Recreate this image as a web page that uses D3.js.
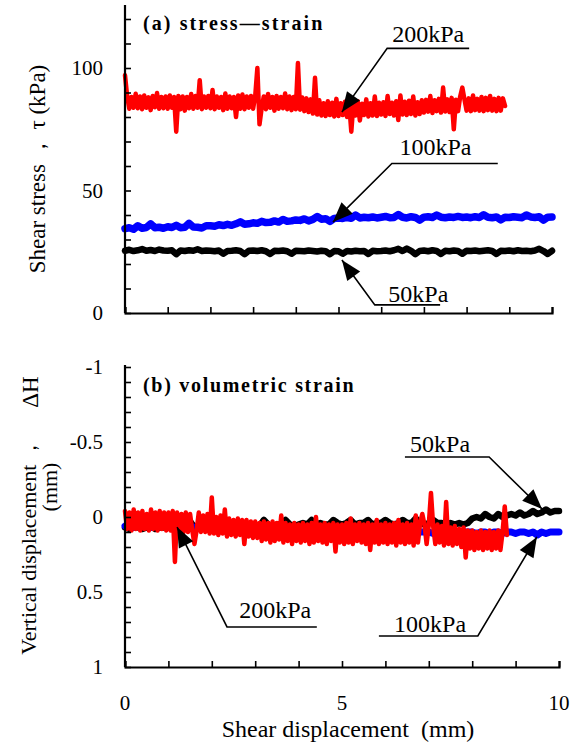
<!DOCTYPE html>
<html>
<head>
<meta charset="utf-8">
<script src="https://cdn.jsdelivr.net/npm/d3@7"></script>
<style>
  body { margin: 0; background: #fff; }
  svg { display: block; }
</style>
</head>
<body>
<svg id="chart" width="573" height="745"></svg>
<script>
// red records are sampled every 0.05 mm, the others every 0.1 mm
var stepFine = 0.05;
var stepCoarse = 0.1;

// (a) shear stress, kPa
var stress200 = [
  97, 88.6, 83.4, 88.2, 83.8, 89.5, 83.6, 88.4, 83.2, 88.8, 83.8, 88, 82.8, 88.6, 84, 89.8, 83.4, 88.2, 83.6, 88.4,
  83.4, 88.8, 83.8, 88.2, 74, 88.6, 83.2, 88.4, 82.6, 88.2, 83.6, 89.4, 83.4, 88.6, 83.8, 95, 83.2, 88.4, 83.8, 88.6,
  83.6, 91, 83.2, 88.4, 83.8, 88.2, 82.8, 89.6, 83.4, 88.4, 83.6, 88.2, 80, 88.8, 83.4, 89.2, 83.2, 88.4, 83.8, 88.6,
  83.4, 88.6, 100, 77, 83.6, 88.4, 83.2, 89.4, 83.8, 88.2, 82.6, 88.6, 83.4, 88.2, 83.6, 89.6, 83.2, 88.4, 82.8, 88.2,
  83.2, 102, 83, 88, 82.4, 87.6, 82, 87.2, 81.4, 96, 81, 86.8, 80.6, 85.6, 80.4, 86.4, 80.8, 85.8, 80.2, 87.4,
  80.4, 85.6, 80.8, 86.2, 80, 85.4, 74, 85.8, 80.6, 86.4, 78.6, 85.4, 80.8, 87.2, 80.2, 85.6, 80.6, 88.4, 80.4, 85.8,
  81, 86, 80.4, 88.6, 81.2, 85.8, 80.6, 86.4, 78.8, 88.8, 81, 86.2, 80.8, 86.6, 81.2, 88.4, 80.6, 86, 81.2, 86.8,
  81.8, 87, 82.2, 88.6, 81.6, 86.8, 82.4, 87.4, 81.8, 92, 82.2, 87.2, 82, 87.8, 75, 87, 82.4, 88.4, 92, 87.2,
  82.6, 87.6, 82.4, 88.8, 82.8, 87.4, 82.6, 88.2, 82.4, 87.8, 82.8, 88.6, 82.6, 87.4, 82.4, 87.8, 82.6, 87.6, 84.5
];
var stress100 = [
  34.4, 34.8, 34.2, 35.6, 34.6, 34.9, 36.4, 34.8, 35.0, 34.6,
  35.2, 34.9, 35.8, 34.8, 35.0, 36.6, 35.1, 35.0, 34.7, 35.6,
  35.6, 35.4, 36.0, 35.7, 36.2, 35.8, 36.4, 37.2, 36.2, 36.4,
  36.8, 36.6, 37.4, 36.9, 37.0, 37.6, 37.1, 38.2, 37.4, 37.6,
  38.0, 37.8, 38.4, 37.6, 38.2, 39.4, 38.3, 38.5, 37.4, 38.6,
  38.8, 38.6, 39.0, 38.7, 40.0, 38.8, 39.1, 38.9, 39.2, 38.8,
  39.1, 39.4, 38.9, 39.0, 40.2, 39.1, 38.8, 39.3, 39.0, 37.9,
  39.1, 39.3, 39.0, 40.0, 39.1, 38.9, 39.2, 39.0, 39.4, 39.0,
  39.2, 38.9, 39.3, 39.0, 40.1, 39.1, 38.9, 39.2, 38.0, 39.1,
  39.0, 39.3, 39.1, 38.9, 40.0, 39.2, 39.0, 39.3, 37.9, 39.1,
  39.2
];
var stress50 = [
  25.4, 25.8, 25.3, 25.6, 26.1, 25.4, 25.7, 25.3, 25.9, 25.5,
  25.4, 25.6, 24.0, 25.5, 25.3, 25.6, 25.4, 26.0, 25.3, 25.5,
  25.4, 25.2, 25.5, 24.2, 25.3, 25.4, 25.6, 25.3, 24.0, 25.4,
  25.5, 25.3, 25.6, 25.2, 24.1, 25.4, 25.3, 25.5, 25.2, 24.2,
  25.4, 25.3, 25.2, 25.5, 25.3, 25.1, 25.4, 25.2, 24.0, 25.3,
  25.2, 24.2, 25.3, 25.1, 25.4, 25.2, 25.3, 24.1, 25.4, 25.2,
  25.3, 25.5, 25.2, 25.6, 26.2, 25.3, 26.3, 25.4, 24.0, 25.3,
  25.5, 25.2, 25.6, 25.3, 24.1, 25.4, 25.2, 25.5, 25.3, 24.2,
  25.4, 25.3, 25.5, 25.2, 25.4, 25.6, 25.3, 24.1, 25.4, 25.3,
  25.5, 25.2, 25.6, 25.3, 25.4, 25.2, 25.5, 26.2, 25.3, 24.1,
  25.4
];

// (b) vertical displacement, mm (negative = dilation, drawn upward)
var disp50 = [
  0.07, 0.08, 0.06, 0.07, 0.08, 0.07, 0.06, 0.08, 0.07, 0.07,
  0.06, 0.07, 0.08, 0.06, 0.07, 0.03, 0.07, 0.06, 0.07, 0.06,
  0.06, 0.05, 0.06, 0.06, 0.03, 0.06, 0.05, 0.06, 0.05, 0.06,
  0.05, 0.06, 0.02, 0.05, 0.06, 0.05, 0.05, 0.02, 0.05, 0.06,
  0.05, 0.04, 0.05, 0.02, 0.05, 0.04, 0.05, 0.05, 0.02, 0.04,
  0.05, 0.04, 0.02, 0.05, 0.04, 0.04, 0.02, 0.05, 0.04, 0.04,
  0.02, 0.04, 0.05, 0.04, 0.02, 0.04, 0.04, 0.01, 0.04, 0.05,
  0.04, 0.02, 0.04, 0.04, 0.05, 0.04, 0.05, 0.04, 0.05, 0.04,
  0.01, 0.00, 0.01, -0.02, 0.00, 0.01, -0.02, 0.00, -0.01, -0.02,
  -0.01, -0.03, -0.01, -0.02, -0.04, -0.02, -0.03, -0.05, -0.03, -0.04,
  -0.04
];
var disp100 = [
  0.06, 0.05, 0.07, 0.06, 0.05, 0.06, 0.07, 0.06, 0.05, 0.06,
  0.06, 0.07, 0.06, 0.05, 0.07, 0.06, 0.07, 0.06, 0.07, 0.06,
  0.07, 0.07, 0.08, 0.07, 0.07, 0.08, 0.07, 0.08, 0.08, 0.07,
  0.08, 0.08, 0.09, 0.08, 0.08, 0.09, 0.08, 0.09, 0.09, 0.08,
  0.09, 0.09, 0.10, 0.09, 0.09, 0.10, 0.09, 0.10, 0.09, 0.10,
  0.10, 0.09, 0.10, 0.10, 0.09, 0.10, 0.10, 0.11, 0.10, 0.10,
  0.10, 0.11, 0.10, 0.10, 0.11, 0.10, 0.10, 0.11, 0.10, 0.10,
  0.10, 0.11, 0.10, 0.10, 0.11, 0.10, 0.10, 0.11, 0.10, 0.10,
  0.10, 0.11, 0.10, 0.10, 0.11, 0.10, 0.10, 0.11, 0.10, 0.10,
  0.11, 0.10, 0.10, 0.11, 0.10, 0.12, 0.10, 0.11, 0.10, 0.10,
  0.10
];
var disp200 = [
  -0.04, 0.08, -0.03, 0.09, -0.05, 0.08, -0.03, 0.09, -0.04, 0.08, -0.02, 0.09, -0.05, 0.08, -0.03, 0.09, -0.04, 0.08, -0.03, 0.09,
  -0.03, 0.09, -0.04, 0.30, -0.03, 0.09, -0.02, 0.10, -0.03, 0.10, -0.02, 0.09, 0.18, 0.09, -0.03, 0.10, -0.01, 0.10, -0.02, 0.11,
  -0.13, 0.11, 0.00, 0.12, -0.01, 0.11, -0.05, 0.13, 0.01, 0.12, 0.02, 0.13, 0.01, 0.12, 0.02, 0.18, 0.02, 0.13, 0.03, 0.14,
  0.03, 0.14, 0.04, 0.16, 0.03, 0.15, 0.04, 0.17, 0.03, 0.16, 0.04, 0.15, -0.01, 0.17, 0.04, 0.16, 0.05, 0.18, 0.04, 0.16,
  0.05, 0.17, 0.04, 0.16, 0.05, 0.18, 0.04, 0.17, 0.00, 0.16, 0.05, 0.17, 0.04, 0.18, 0.05, 0.16, 0.04, 0.23, 0.05, 0.17,
  0.05, 0.18, 0.04, 0.17, 0.01, 0.18, 0.05, 0.16, 0.04, 0.17, 0.05, 0.18, 0.04, 0.22, 0.05, 0.17, 0.02, 0.18, 0.05, 0.17,
  0.04, 0.18, 0.05, 0.17, 0.04, 0.19, 0.02, 0.17, 0.05, 0.18, 0.04, 0.17, 0.05, 0.19, -0.01, 0.17, 0.04, -0.02, 0.05, 0.18,
  0.05, -0.16, 0.06, 0.18, 0.05, 0.17, 0.06, 0.19, -0.10, 0.18, 0.07, 0.19, 0.06, 0.18, 0.08, 0.20, 0.07, 0.27, 0.09, 0.21,
  0.09, 0.22, 0.10, 0.21, 0.09, 0.22, 0.10, 0.21, 0.09, 0.22, 0.10, 0.21, 0.09, 0.22, 0.10, -0.07, 0.12
];

var stressTicks = [0, 50, 100];
var dispTicks = [-1, -0.5, 0, 0.5, 1];
var dispTickLabels = ["-1", "-0.5", "0", "0.5", "1"];
var shearTicks = [0, 5, 10];

var serif = "'Liberation Serif', 'Times New Roman', Times, serif";
var svg = d3.select("#chart").attr("font-family", serif);

var xTop = d3.scaleLinear().domain([0, 10]).range([125, 552]);
var yTop = d3.scaleLinear().domain([0, 125]).range([313, 6.75]);
var xBot = d3.scaleLinear().domain([0, 10]).range([125, 559]);
var yBot = d3.scaleLinear().domain([-1, 1]).range([367, 667]);

function drawSeries(vals, step, x, y, color, width) {
  var line = d3.line()
    .x(function(d, i){ return x(i * step); })
    .y(function(d){ return y(d); });
  svg.append("path")
    .attr("d", line(vals))
    .attr("fill", "none")
    .attr("stroke", color)
    .attr("stroke-width", width)
    .attr("stroke-linejoin", "round")
    .attr("stroke-linecap", "round");
}

// top panel
drawSeries(stress50, stepCoarse, xTop, yTop, "#000000", 6.5);
drawSeries(stress100, stepCoarse, xTop, yTop, "#0000ff", 7.5);
drawSeries(stress200, stepFine, xTop, yTop, "#ff0000", 4.5);

// bottom panel
drawSeries(disp50, stepCoarse, xBot, yBot, "#000000", 6.5);
drawSeries(disp100, stepCoarse, xBot, yBot, "#0000ff", 7);
drawSeries(disp200, stepFine, xBot, yBot, "#ff0000", 4.5);

// axes (ticks point inward)
svg.append("g").attr("transform", "translate(125,0)")
  .call(d3.axisRight(yTop).tickValues(d3.range(0, 121, 10)).tickSize(6).tickFormat(""))
  .call(function(g){ g.select(".domain").attr("d", "M0,5V313"); });
svg.append("g").attr("transform", "translate(0,313)")
  .call(d3.axisTop(xTop).ticks(10).tickSize(6).tickFormat(""));
svg.append("g").attr("transform", "translate(125,0)")
  .call(d3.axisRight(yBot).tickValues(d3.range(-10, 11).map(function(v){ return v / 10; })).tickSize(6).tickFormat(""))
  .call(function(g){ g.select(".domain").attr("d", "M0,365V667"); });
svg.append("g").attr("transform", "translate(0,667)")
  .call(d3.axisTop(xBot).ticks(10).tickSize(6).tickFormat(""));

svg.selectAll(".domain").attr("stroke", "#000").attr("stroke-width", 2.2);
svg.selectAll(".tick line").attr("stroke", "#000").attr("stroke-width", 1.6);

function label(x, y, size, txt) {
  return svg.append("text").attr("x", x).attr("y", y)
    .attr("font-family", serif).attr("font-size", size).attr("fill", "#000")
    .text(txt);
}

// tick labels
stressTicks.forEach(function(d){
  label(103, yTop(d) + 7, 21, d).attr("text-anchor", "end");
});
dispTicks.forEach(function(d, i){
  label(103, yBot(d) + 7, 21, dispTickLabels[i]).attr("text-anchor", "end");
});
shearTicks.forEach(function(d){
  label(xBot(d), 710, 21, d).attr("text-anchor", "middle");
});

// panel titles
label(143, 30, 20, "(a) stress\u2014strain").attr("font-weight", "bold").attr("letter-spacing", 2.1);
label(143, 392, 20, "(b) volumetric strain").attr("font-weight", "bold").attr("letter-spacing", 1.7);

label(348, 737, 24, "Shear displacement\u00a0\u00a0(mm)").attr("text-anchor", "middle");

label(0, 0, 23, "Shear stress \uff0c \u03c4 (kPa)").attr("text-anchor", "middle")
  .attr("transform", "translate(45,169) rotate(-90)");
label(0, 0, 22, "Vertical displacement \uff0c").attr("text-anchor", "middle")
  .attr("transform", "translate(36,546) rotate(-90)");
label(0, 0, 23, "\u0394H").attr("text-anchor", "middle")
  .attr("transform", "translate(38,392) rotate(-90)");
label(0, 0, 22, "(mm)").attr("text-anchor", "middle")
  .attr("transform", "translate(57,487) rotate(-90)");

// pointer labels: tip, elbow, far end of the underline (data units)
function pointer(x, y, txt, tip, elbow, end, textX, textDy) {
  var tx = x(tip[0]), ty = y(tip[1]);
  var ex = x(elbow[0]), ey = y(elbow[1]);
  var fx = x(end[0]);
  svg.append("path")
    .attr("d", "M" + fx + "," + ey + "H" + ex + "L" + tx + "," + ty)
    .attr("fill", "none").attr("stroke", "#000").attr("stroke-width", 1.6);
  var ang = Math.atan2(ty - ey, tx - ex);
  var len = 20, half = 8;
  var bx = tx - len * Math.cos(ang), by = ty - len * Math.sin(ang);
  var px = -Math.sin(ang) * half, py = Math.cos(ang) * half;
  svg.append("path")
    .attr("d", "M" + tx + "," + ty + "L" + (bx + px) + "," + (by + py) + "L" + (bx - px) + "," + (by - py) + "Z")
    .attr("fill", "#000");
  label(x(textX), ey - textDy, 24, txt).attr("text-anchor", "middle");
}

pointer(xTop, yTop, "200kPa", [5.08, 82], [6.14, 108], [8.06, 108], 7.1, 6);
pointer(xTop, yTop, "100kPa", [4.87, 37.1], [6.25, 61], [8.73, 61], 7.27, 9);
pointer(xTop, yTop, "50kPa", [5.08, 21.6], [5.85, 3.3], [7.38, 3.3], 6.87, 3);

pointer(xBot, yBot, "50kPa", [9.61, -0.053], [8.39, -0.4], [6.45, -0.4], 7.26, 5);
pointer(xBot, yBot, "100kPa", [9.49, 0.133], [8.13, 0.793], [5.85, 0.793], 7.03, 4);
pointer(xBot, yBot, "200kPa", [1.2, 0.067], [2.35, 0.733], [4.42, 0.733], 3.46, 9);
</script>
</body>
</html>
